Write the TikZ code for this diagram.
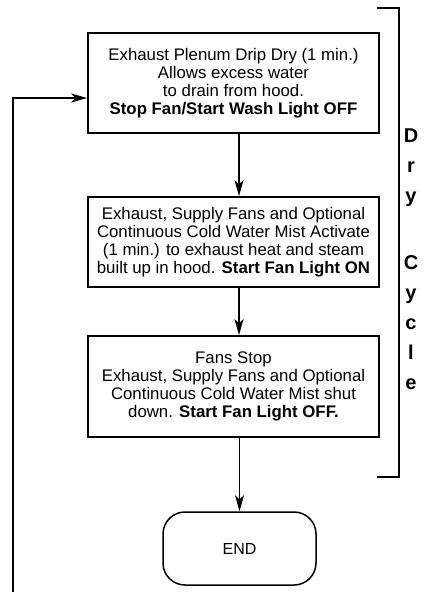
\documentclass[tikz,border=0pt]{standalone}
\usepackage{fontspec}
\setmainfont{Liberation Sans}
\usetikzlibrary{arrows.meta}
\begin{document}
\begin{tikzpicture}[x=1pt,y=-1pt,
  boxnode/.style={draw, line width=1.7pt, minimum width=291pt, inner sep=0pt, align=center, font=\fontsize{16.8}{18}\selectfont},
  conn/.style={line width=1.3pt, -{Stealth[length=16pt,width=9pt,inset=4pt]}},
  endnode/.style={draw, line width=1.5pt, rounded corners=22pt, minimum width=153pt, minimum height=73pt, inner sep=0pt, font=\fontsize{16}{18}\selectfont},
  sidetext/.style={anchor=north, align=center, inner sep=0pt, font=\bfseries\fontsize{20}{30}\selectfont},
  bracketline/.style={line width=1.8pt}
  ]
\useasboundingbox (0,0) rectangle (444,592);
\node[boxnode, minimum height=100pt] (b1) at (233.5,83) {Exhaust Plenum Drip Dry (1 min.)\\Allows excess water\\to drain from hood.\\\textbf{Stop Fan/Start Wash Light OFF}};
\node[boxnode, minimum height=90pt] (b2) at (233.5,242) {Exhaust, Supply Fans and Optional\\Continuous Cold Water Mist Activate\\(1 min.) to exhaust heat and steam\\built up in hood. \textbf{Start Fan Light ON}};
\node[boxnode, minimum height=101pt] (b3) at (233.5,386.5) {Fans Stop\\Exhaust, Supply Fans and Optional\\Continuous Cold Water Mist shut\\down. \textbf{Start Fan Light OFF.}};
\node[endnode] (endn) at (239.5,548.5) {END};
\node[sidetext] (dry) at (411,129) {D\\r\\y\\[37pt]C\\y\\c\\l\\e};
\coordinate (brA) at (377,8);
\coordinate (brB) at (399,8);
\coordinate (brC) at (399,477);
\coordinate (brD) at (377,477);
\draw[bracketline] (brA) -- (brB) -- (brC) -- (brD);
\coordinate (fbstart) at (13,592);
\draw[conn, line width=1.6pt] (fbstart) |- ([yshift=-15pt]b1.west);
\draw[conn] ([xshift=5.5pt]b1.south) -- ([xshift=5.5pt]b2.north);
\draw[conn] ([xshift=5.5pt]b2.south) -- ([xshift=5.5pt]b3.north);
\draw[conn] ([xshift=6pt]b3.south) -- (endn.north);
\end{tikzpicture}
\end{document}
